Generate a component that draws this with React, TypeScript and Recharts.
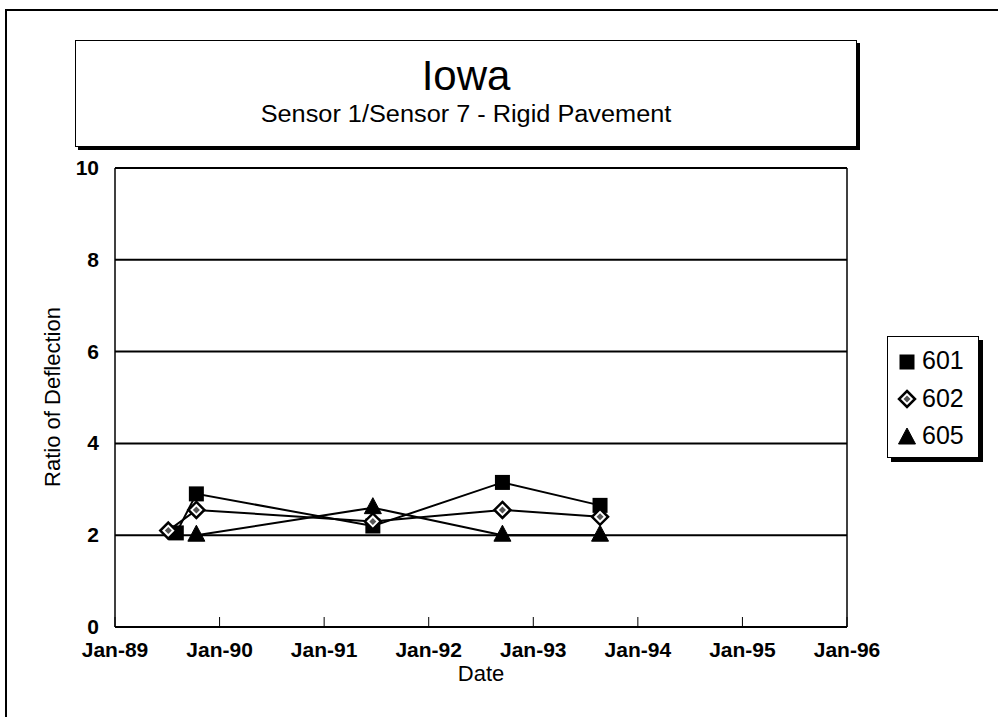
import { CartesianGrid, Line, LineChart, XAxis, YAxis } from "recharts";

const xTickLabels = ["Jan-89", "Jan-90", "Jan-91", "Jan-92", "Jan-93", "Jan-94", "Jan-95", "Jan-96"];
const yTicks = [0, 2, 4, 6, 8, 10];

const dates601 = ["1989-08-03", "1989-10-12", "1991-06-20", "1992-09-15", "1993-08-22"];
const values601 = [2.05, 2.9, 2.2, 3.15, 2.65];

const dates602 = ["1989-07-06", "1989-10-12", "1991-06-20", "1992-09-15", "1993-08-22"];
const values602 = [2.1, 2.55, 2.3, 2.55, 2.4];

const dates605 = ["1989-10-12", "1991-06-20", "1992-09-15", "1993-08-22"];
const values605 = [2.0, 2.6, 2.0, 2.0];

const FONT = '"Liberation Sans", Arial, sans-serif';

function toYear(iso: string): number {
  const t = Date.parse(iso + "T00:00:00Z");
  const y = new Date(t).getUTCFullYear();
  const start = Date.UTC(y, 0, 1);
  const end = Date.UTC(y + 1, 0, 1);
  return y + (t - start) / (end - start);
}

function series(dates: string[], values: number[]) {
  return dates.map((d, i) => ({ date: toYear(d), value: values[i] }));
}

const data601 = series(dates601, values601);
const data602 = series(dates602, values602);
const data605 = series(dates605, values605);

const xTicks = xTickLabels.map((_, i) => 1989 + i);

function SquareDot(props: any) {
  const { cx, cy } = props;
  if (cx == null || cy == null) return null;
  return <rect x={cx - 7.5} y={cy - 7.5} width={15} height={15} fill="#000" />;
}

function DiamondDot(props: any) {
  const { cx, cy } = props;
  if (cx == null || cy == null) return null;
  return (
    <g>
      <path
        d={`M${cx},${cy - 8} L${cx + 8},${cy} L${cx},${cy + 8} L${cx - 8},${cy} Z`}
        fill="#fff"
        stroke="#000"
        strokeWidth={2.5}
      />
      <path d={`M${cx},${cy - 3.5} L${cx + 3.5},${cy} L${cx},${cy + 3.5} L${cx - 3.5},${cy} Z`} fill="#555" />
    </g>
  );
}

function TriangleDot(props: any) {
  const { cx, cy } = props;
  if (cx == null || cy == null) return null;
  return (
    <path
      d={`M${cx},${cy - 10} L${cx + 8.5},${cy + 6} L${cx - 8.5},${cy + 6} Z`}
      fill="#000"
      stroke="#000"
      strokeWidth={1}
    />
  );
}

function XTick(props: any) {
  const { x, y, payload } = props;
  const label = xTickLabels[Math.round(payload.value) - 1989];
  return (
    <g>
      <line x1={x} y1={y} x2={x} y2={y - 10} stroke="#000" strokeWidth={1} />
      <text x={x} y={y + 30} textAnchor="middle" fontFamily={FONT} fontSize={21} fontWeight="bold" fill="#000">
        {label}
      </text>
    </g>
  );
}

function YTick(props: any) {
  const { x, y, payload } = props;
  return (
    <text x={x - 16} y={y + 7} textAnchor="end" fontFamily={FONT} fontSize={21} fontWeight="bold" fill="#000">
      {payload.value}
    </text>
  );
}

function LegendIcon({ kind }: { kind: string }) {
  return (
    <svg width={22} height={22} style={{ display: "block" }}>
      {kind === "square" && <SquareDot cx={11} cy={12} />}
      {kind === "diamond" && <DiamondDot cx={11} cy={12} />}
      {kind === "triangle" && <TriangleDot cx={11} cy={13} />}
    </svg>
  );
}

const legendItems = [
  { name: "601", kind: "square" },
  { name: "602", kind: "diamond" },
  { name: "605", kind: "triangle" },
];

export default function App() {
  return (
    <div
      style={{
        position: "absolute",
        left: 0,
        top: 0,
        width: 998,
        height: 717,
        overflow: "hidden",
        background: "#fff",
        fontFamily: FONT,
      }}
    >
      <div
        style={{
          position: "absolute",
          left: 5,
          top: 9,
          width: 1100,
          height: 800,
          borderLeft: "2px solid #000",
          borderTop: "2px solid #000",
        }}
      />

      <div
        style={{
          position: "absolute",
          left: 75,
          top: 40,
          width: 780,
          height: 105,
          border: "1.5px solid #000",
          boxShadow: "3px 3px 0 #000",
          background: "#fff",
          textAlign: "center",
        }}
      >
        <div style={{ fontSize: 42, lineHeight: "44px", marginTop: 13 }}>Iowa</div>
        <div style={{ fontSize: 23, lineHeight: "26px", marginTop: 3, transform: "scaleX(1.1)" }}>
          Sensor 1/Sensor 7 - Rigid Pavement
        </div>
      </div>

      <LineChart
        width={998}
        height={717}
        margin={{ top: 167, right: 150, bottom: 89, left: 114 }}
        style={{ position: "absolute", left: 0, top: 0 }}
      >
        <CartesianGrid vertical={false} stroke="#000" strokeWidth={2} />
        <XAxis
          dataKey="date"
          type="number"
          domain={[1989, 1996]}
          ticks={xTicks}
          height={1}
          tickSize={0}
          tickMargin={0}
          tickLine={false}
          axisLine={{ stroke: "#000", strokeWidth: 1.5 }}
          tick={<XTick />}
          interval={0}
        />
        <XAxis
          xAxisId="top"
          orientation="top"
          type="number"
          domain={[1989, 1996]}
          height={1}
          tick={false}
          tickLine={false}
          axisLine={{ stroke: "#000", strokeWidth: 1.5 }}
        />
        <YAxis
          type="number"
          domain={[0, 10]}
          ticks={yTicks}
          width={1}
          tickSize={0}
          tickMargin={0}
          tickLine={false}
          axisLine={{ stroke: "#000", strokeWidth: 1.5 }}
          tick={<YTick />}
          interval={0}
        />
        <YAxis
          yAxisId="right"
          orientation="right"
          domain={[0, 10]}
          width={1}
          tick={false}
          tickLine={false}
          axisLine={{ stroke: "#000", strokeWidth: 1.5 }}
        />
        <Line data={data601} dataKey="value" name="601" stroke="#000" strokeWidth={2} dot={<SquareDot />} isAnimationActive={false} />
        <Line data={data602} dataKey="value" name="602" stroke="#000" strokeWidth={2} dot={<DiamondDot />} isAnimationActive={false} />
        <Line data={data605} dataKey="value" name="605" stroke="#000" strokeWidth={2} dot={<TriangleDot />} isAnimationActive={false} />
      </LineChart>

      <div
        style={{
          position: "absolute",
          left: 53,
          top: 397,
          transform: "translate(-50%, -50%) rotate(-90deg)",
          fontSize: 22,
          whiteSpace: "nowrap",
        }}
      >
        Ratio of Deflection
      </div>
      <div
        style={{
          position: "absolute",
          left: 481,
          top: 674,
          transform: "translate(-50%, -50%)",
          fontSize: 22,
        }}
      >
        Date
      </div>

      <div
        style={{
          position: "absolute",
          left: 887,
          top: 336,
          width: 92,
          height: 122,
          border: "1.5px solid #000",
          boxShadow: "4px 4px 0 #000",
          background: "#fff",
          boxSizing: "border-box",
          paddingTop: 5,
        }}
      >
        {legendItems.map((item) => (
          <div key={item.name} style={{ display: "flex", alignItems: "center", height: 37.5, paddingLeft: 8 }}>
            <LegendIcon kind={item.kind} />
            <span style={{ fontSize: 25, marginLeft: 4 }}>{item.name}</span>
          </div>
        ))}
      </div>
    </div>
  );
}
